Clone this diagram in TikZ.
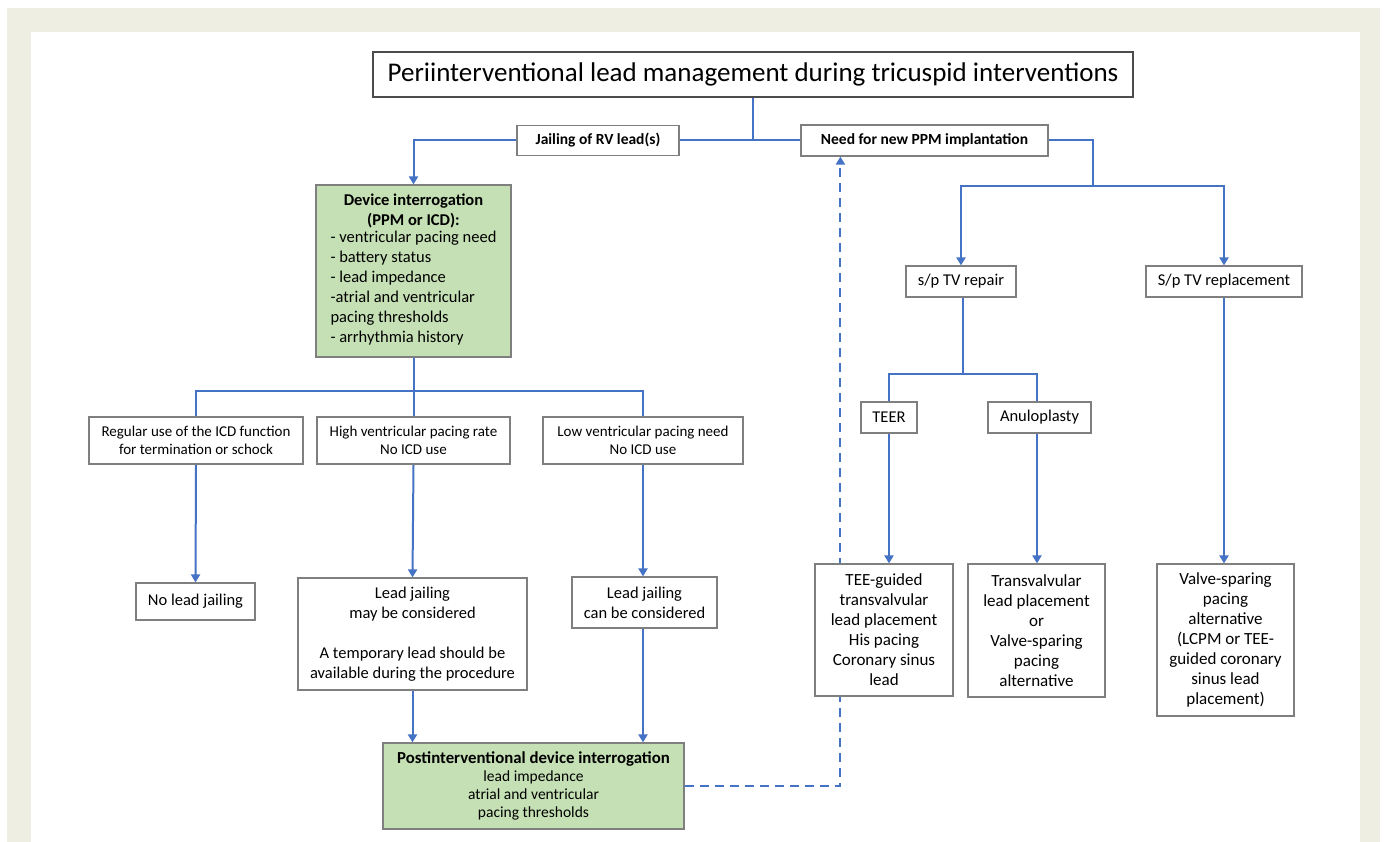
\documentclass[tikz,border=0pt]{standalone}
\usepackage{fontspec}
\setmainfont{Carlito}
\usepackage{tikz}
\usetikzlibrary{positioning,arrows.meta,backgrounds}
\definecolor{azul}{HTML}{4472C4}
\definecolor{verde}{HTML}{C5E0B4}
\definecolor{borde}{HTML}{7F7F7F}
\definecolor{marco}{HTML}{EEEEE2}
\tikzset{linea/.style={draw=azul,line width=2pt}}
\tikzset{flecha/.style={linea,-{Triangle[width=9pt,length=8pt]}}}
\tikzset{discont/.style={flecha,dash pattern=on 9pt off 6pt}}
\tikzset{caja/.style={draw=borde,line width=1.2pt,fill=white,inner sep=0pt,align=center,
    font=\fontsize{15}{18}\selectfont}}
\tikzset{cajaverde/.style={caja,fill=verde}}

\begin{document}
\begin{tikzpicture}[x=1pt,y=-1pt]
\useasboundingbox (0,0) rectangle (1386,842);
\begin{scope}[on background layer]
  \fill[marco] (7,8) rectangle (1380,842);
  \fill[white] (31,32) rectangle (1360,842);
\end{scope}

% cabecera
\node[caja,draw=black!70,font=\fontsize{27}{30}\selectfont,minimum width=760pt,minimum height=45pt] (title) at (753,74.5)
  {Periinterventional lead management during tricuspid interventions};
\node[caja,font=\bfseries\fontsize{15.5}{18}\selectfont,minimum width=162pt,minimum height=30pt] (jail) at (598,140.5) {Jailing of RV lead(s)};
\node[caja,font=\bfseries\fontsize{15.5}{18}\selectfont,minimum width=247pt,minimum height=31pt] (need) at (924.5,140.5) {Need for new PPM implantation};

% rama izquierda
\node[cajaverde,font=\fontsize{16.5}{20}\selectfont,minimum width=195pt,minimum height=172pt] (dev) at (413.5,271)
  {\textbf{Device interrogation}\\\textbf{(PPM or ICD):}\\
   \begin{tabular}{@{}l@{}}- ventricular pacing need\\- battery status\\- lead impedance\\-atrial and ventricular\\pacing thresholds\\- arrhythmia history\end{tabular}};

\node[caja,minimum width=214pt,minimum height=47pt] (regA) at (196,440.5) {Regular use of the ICD function\\for termination or schock};
\node[caja,minimum width=193pt,minimum height=47pt] (regB) at (413.5,440.5) {High ventricular pacing rate\\No ICD use};
\node[caja,minimum width=200pt,minimum height=47pt] (regC) at (643,440.5) {Low ventricular pacing need\\No ICD use};

\node[caja,font=\fontsize{16.5}{20}\selectfont,minimum width=119pt,minimum height=37pt] (nolead) at (195.5,601.5) {No lead jailing};
\node[caja,font=\fontsize{16.5}{20}\selectfont,minimum width=229pt,minimum height=112pt] (maybe) at (412.5,634)
  {Lead jailing\\may be considered\\[20pt]A temporary lead should be\\available during the procedure};
\node[caja,font=\fontsize{16.5}{20}\selectfont,minimum width=145pt,minimum height=51pt] (canbe) at (644.5,602.5) {Lead jailing\\can be considered};

\node[cajaverde,font=\fontsize{15.5}{18}\selectfont,minimum width=301pt,minimum height=86pt] (post) at (533.5,786)
  {{\bfseries\fontsize{16.8}{18}\selectfont Postinterventional device interrogation}\\lead impedance\\atrial and ventricular\\pacing thresholds};

% rama derecha
\node[caja,font=\fontsize{16.5}{20}\selectfont,minimum width=110pt,minimum height=31pt] (repair) at (961,281.5) {s/p TV repair};
\node[caja,font=\fontsize{16.5}{20}\selectfont,minimum width=156pt,minimum height=31pt] (replace) at (1224,281.5) {S/p TV replacement};
\node[caja,font=\fontsize{16.5}{20}\selectfont,minimum width=56pt,minimum height=31pt] (teer) at (889,417.5) {TEER};
\node[caja,font=\fontsize{16.5}{20}\selectfont,minimum width=103pt,minimum height=31pt] (anulo) at (1039.5,417.5) {Anuloplasty};

\node[caja,font=\fontsize{17}{20}\selectfont,minimum width=138pt,minimum height=132pt] (teeg) at (884,630)
  {TEE-guided\\transvalvular\\lead placement\\His pacing\\Coronary sinus\\lead};
\node[caja,font=\fontsize{17}{20}\selectfont,minimum width=137pt,minimum height=133pt] (transv) at (1036.5,630.5)
  {Transvalvular\\lead placement\\or\\Valve-sparing\\pacing\\alternative};
\node[caja,font=\fontsize{17}{20}\selectfont,minimum width=137pt,minimum height=152pt] (valve) at (1225.5,640)
  {Valve-sparing\\pacing\\alternative\\(LCPM or TEE-\\guided coronary\\sinus lead\\placement)};

% puntos de union
\coordinate (c1) at (753,140.5);
\coordinate (c2) at (1093,186);
\coordinate (c3) at (413.5,391);
\coordinate (c4) at (963,374);

\begin{scope}[on background layer]
  \draw[linea] (title.south) -- (c1);
  \draw[linea] (jail.east) -- (need.west);
  \draw[flecha] (jail.west) -| (dev.north);
  \draw[linea] (need.east) -| (c2);
  \draw[flecha] (c2) -| (repair.north);
  \draw[flecha] (c2) -| (replace.north);

  \draw[linea] (dev.south) -- (c3);
  \draw[linea] (c3) -| (regA.north);
  \draw[linea] (c3) -- (regB.north);
  \draw[linea] (c3) -| (regC.north);
  \draw[flecha] (regA.south) -- (nolead.north);
  \draw[flecha] (regB.south) -- (maybe.north);
  \draw[flecha] (regC.south) -- (canbe.north -| regC.south);
  \draw[flecha] (maybe.south) -- (maybe.south |- post.north);
  \draw[flecha] (canbe.south -| regC.south) -- (regC.south |- post.north);

  \draw[linea] (repair.south -| c4) -- (c4);
  \draw[linea] (c4) -| (teer.north);
  \draw[linea] (c4) -| ([xshift=-2.5pt]anulo.north);
  \draw[flecha] (teer.south) -- (teer.south |- teeg.north);
  \draw[flecha] ([xshift=-2.5pt]anulo.south) -- ([xshift=-2.5pt]anulo.south |- transv.north);
  \draw[flecha] (replace.south) -- (replace.south |- valve.north);

  \draw[discont] (post.east) -| ([xshift=40pt]need.south west);
\end{scope}
\end{tikzpicture}
\end{document}
